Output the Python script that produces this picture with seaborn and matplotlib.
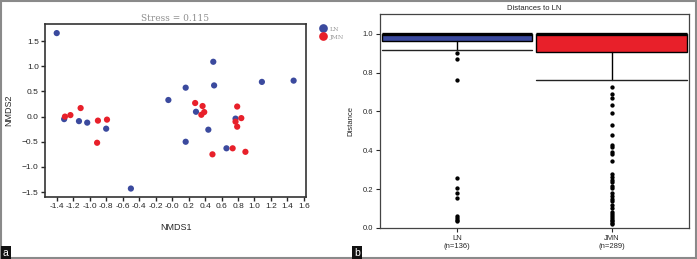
import numpy as np
import pandas as pd
import seaborn as sns
import matplotlib.pyplot as plt
from matplotlib.patches import Rectangle

# NMDS coordinates
ln_x = [-1.40, -1.31, -1.13, -1.03, -0.80, -0.50, -0.045, 0.165, 0.165, 0.29,
        0.50, 0.51, 0.44, 0.66, 0.77, 1.09, 1.475]
ln_y = [1.66, -0.05, -0.09, -0.12, -0.24, -1.43, 0.33, 0.575, -0.50, 0.096,
        1.09, 0.62, -0.26, -0.63, -0.04, 0.69, 0.715]
jmn_x = [-1.30, -1.234, -1.11, -0.90, -0.79, -0.91, 0.28, 0.37, 0.355, 0.39,
         0.49, 0.735, 0.79, 0.84, 0.77, 0.79, 0.89]
jmn_y = [0.00, 0.03, 0.17, -0.08, -0.06, -0.52, 0.27, 0.21, 0.036, 0.09,
         -0.75, -0.63, 0.20, -0.03, -0.10, -0.20, -0.70]

# box summaries
groups = ["LN", "JMN"]
group_n = [136, 289]
q1 = [0.962, 0.904]
med = [1.0, 1.0]
q3 = [1.0, 1.0]
whis_lo = [0.914, 0.760]
whis_hi = [1.0, 1.0]
ln_fliers = [0.90, 0.872, 0.76, 0.256, 0.204, 0.18, 0.153, 0.06, 0.051, 0.043, 0.038]
jmn_fliers = [0.727, 0.691, 0.671, 0.635, 0.59, 0.532, 0.48, 0.427, 0.419, 0.391,
              0.381, 0.343, 0.276, 0.264, 0.249, 0.235, 0.218, 0.204, 0.18, 0.166,
              0.151, 0.141, 0.118, 0.101, 0.082, 0.072, 0.06, 0.051, 0.043, 0.034,
              0.026, 0.021]

blue = "#3b4a9e"
red = "#e8202a"

sns.set_style("ticks")
plt.rcParams["font.family"] = ["Liberation Sans", "DejaVu Sans"]

fig = plt.figure(figsize=(6.97, 2.59), dpi=100)
ax1 = fig.add_axes([0.0646, 0.239, 0.3744, 0.668])
ax2 = fig.add_axes([0.545, 0.1197, 0.4435, 0.8253])

# ---- panel a: NMDS scatter
df = pd.DataFrame({
    "NMDS1": ln_x + jmn_x,
    "NMDS2": ln_y + jmn_y,
    "group": ["LN"] * len(ln_x) + ["JMN"] * len(jmn_x),
})
sns.scatterplot(data=df, x="NMDS1", y="NMDS2", hue="group",
                palette={"LN": blue, "JMN": red}, s=20, linewidth=0, ax=ax1)
xt = np.round(np.arange(-1.4, 1.61, 0.2), 1)
ax1.set_xlim(-1.542, 1.625)
ax1.set_ylim(-1.60, 1.839)
ax1.set_xticks(xt)
ax1.set_xticklabels([f"{v:.1f}" for v in xt])
ax1.set_yticks([-1.5, -1.0, -0.5, 0.0, 0.5, 1.0, 1.5])
ax1.tick_params(labelsize=6, length=3, width=1, pad=1.5)
for s in ax1.spines.values():
    s.set_linewidth(1.2)
    s.set_color("#333333")
ax1.set_xlabel("NMDS1", fontsize=6.5, labelpad=9)
ax1.set_ylabel("NMDS2", fontsize=6.5, labelpad=6)
ax1.set_title("Stress = 0.115", fontsize=6.5, color="#909090",
              family="DejaVu Serif", pad=2)
ax1.legend(loc="upper left", bbox_to_anchor=(1.02, 1.02), frameon=False,
           markerscale=1.4, handletextpad=0.1, labelspacing=0.4,
           prop={"family": "DejaVu Serif", "size": 4.5}, labelcolor="#999999")

# ---- panel b: distance boxplots
stats = []
for i, g in enumerate(groups):
    stats.append({"label": g, "q1": q1[i], "med": med[i], "q3": q3[i],
                  "whislo": whis_lo[i], "whishi": whis_hi[i],
                  "fliers": [ln_fliers, jmn_fliers][i]})
bp = ax2.bxp(stats, positions=[0, 1], widths=0.975, capwidths=0.975,
             patch_artist=True, showfliers=True,
             boxprops=dict(edgecolor="black", linewidth=1),
             medianprops=dict(color="black", linewidth=2.4),
             whiskerprops=dict(color="black", linewidth=1),
             capprops=dict(color="#222222", linewidth=1),
             flierprops=dict(marker="o", markersize=2.1, markerfacecolor="black",
                             markeredgecolor="black", linestyle="none"))
for patch, c in zip(bp["boxes"], [blue, red]):
    patch.set_facecolor(c)
ax2.set_xlim(-0.5, 1.5)
ax2.set_ylim(0, 1.10)
ax2.set_yticks([0.0, 0.2, 0.4, 0.6, 0.8, 1.0])
ax2.set_xticks([0, 1])
ax2.set_xticklabels([f"{g}\n(n={n})" for g, n in zip(groups, group_n)])
ax2.tick_params(labelsize=5.5, length=3, width=0.8, pad=2)
for s in ax2.spines.values():
    s.set_linewidth(0.9)
    s.set_color("#444444")
ax2.set_ylabel("Distance", fontsize=5.5, labelpad=6)
ax2.set_title("Distances to LN", fontsize=5.5, pad=3)

# figure frame and panel letters
fig.add_artist(Rectangle((0.001, 0.002), 0.997, 0.995, transform=fig.transFigure,
                         fill=False, edgecolor="#8a8a8a", linewidth=1.5))
for xpos, lab in [(0.004, "a"), (0.508, "b")]:
    fig.text(xpos, 0.012, lab, color="white", fontsize=7.5,
             bbox=dict(boxstyle="square,pad=0.2", fc="#111111", ec="none"))

fig.savefig("out.png", dpi=100)
